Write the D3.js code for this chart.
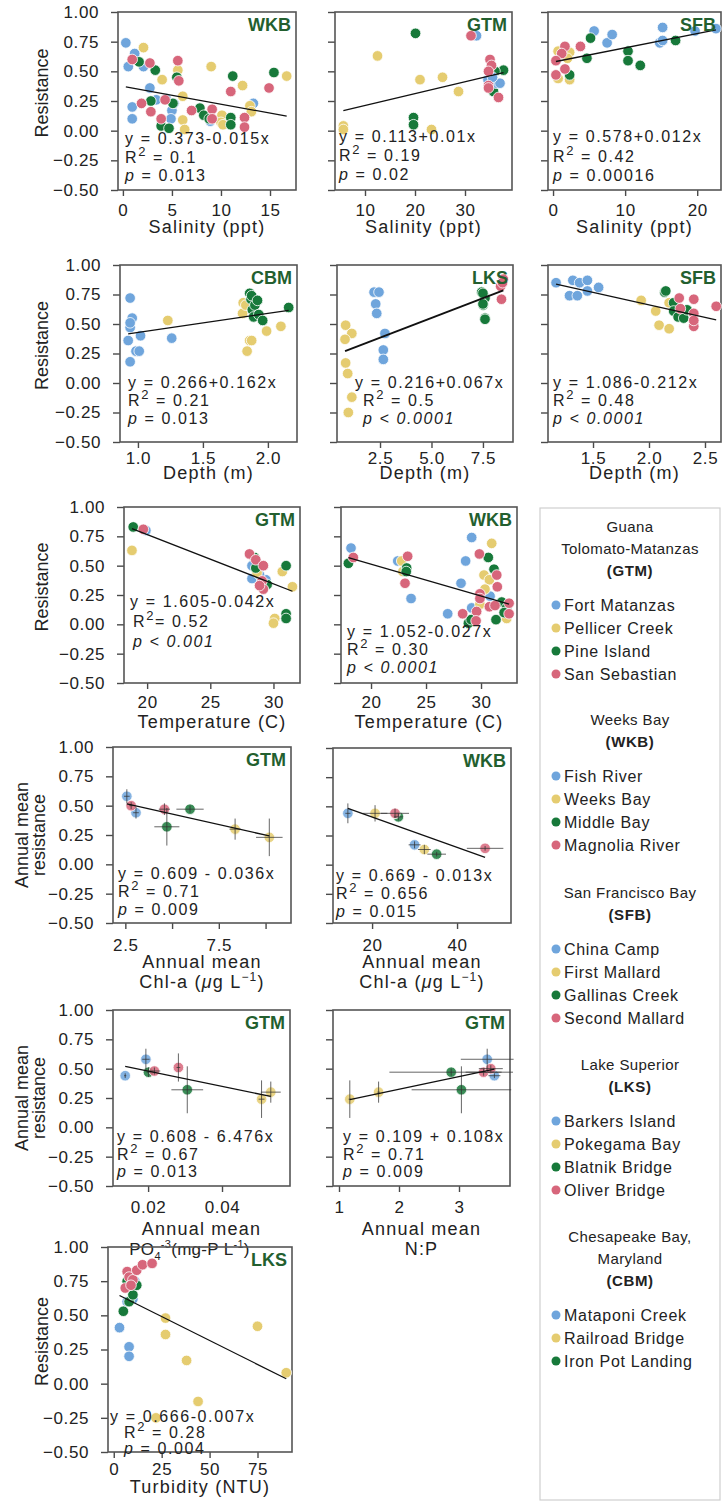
<!DOCTYPE html>
<html>
<head>
<meta charset="utf-8">
<script src="https://cdn.jsdelivr.net/npm/d3@7"></script>
<style>
  body { margin: 0; background: #fff; }
  svg { display: block; font-family: "Liberation Sans", Arial, sans-serif; }
</style>
</head>
<body>
<svg id="chart" width="722" height="1502"></svg>
<script>
// every point is [x, y, site]; site 0 blue, 1 yellow, 2 green, 3 red
const wkbSalinity = [
  [0.3,0.74,0],[0.55,0.54,0],[1.2,0.65,0],[0.95,0.20,0],[0.95,0.10,0],[2.1,0.54,0],[2.75,0.36,0],[3.4,0.26,0],[4.4,0.27,0],[5.0,0.17,0],[4.9,0.10,0],[5.2,0.23,0],[8.9,0.08,0],[13.3,0.23,0],
  [2.1,0.70,1],[4.0,0.43,1],[5.6,0.51,1],[6.1,0.29,1],[6.1,0.09,1],[6.3,0.01,1],[9.0,0.54,1],[10.1,0.13,1],[10.0,0.07,1],[10.2,0.05,1],[12.2,0.38,1],[12.95,0.21,1],[13.1,0.16,1],[16.7,0.46,1],
  [1.65,0.58,2],[3.3,0.51,2],[2.85,0.25,2],[3.9,0.04,2],[4.7,0.02,2],[5.1,0.23,2],[5.5,0.45,2],[7.85,0.19,2],[8.25,0.13,2],[8.8,0.10,2],[11.2,0.46,2],[11.0,0.11,2],[11.0,0.05,2],[15.4,0.49,2],
  [0.95,0.60,3],[1.9,0.23,3],[2.75,0.57,3],[2.85,0.16,3],[3.9,0.10,3],[4.3,0.26,3],[5.6,0.59,3],[5.7,0.42,3],[7.0,0.17,3],[9.1,0.18,3],[9.1,0.10,3],[11.0,0.33,3],[12.4,0.11,3],[12.4,0.03,3],[14.9,0.36,3]
];
const gtmSalinity = [
  [5.67,0.04,1],[5.67,0.01,1],[12.5,0.63,1],[21,0.43,1],[23.3,0.01,1],[25.5,0.45,1],[28.7,0.33,1],
  [20.1,0.82,2],[19.7,0.11,2],[19.7,0.05,2],[37.7,0.51,2],[36,0.50,2],[35.7,0.33,2],
  [32.3,0.80,0],[36.3,0.40,0],[37.0,0.40,0],[34.6,0.43,0],[35.5,0.45,0],
  [31.2,0.80,3],[35,0.60,3],[35.3,0.55,3],[34.7,0.50,3],[34.7,0.38,3],[34.7,0.36,3],[36.7,0.28,3]
];
const sfbSalinity = [
  [0.7,0.67,1],[2.3,0.66,1],[2.3,0.43,1],[0.7,0.44,1],[2.0,0.61,1],
  [5.7,0.84,0],[7.5,0.74,0],[8.2,0.81,0],[15.2,0.87,0],[14.8,0.74,0],[15.2,0.76,0],[19.7,0.84,0],[22.6,0.86,0],
  [5.2,0.78,2],[4.7,0.61,2],[10.4,0.67,2],[10.4,0.59,2],[12.1,0.55,2],[17,0.76,2],[2.3,0.47,2],
  [1.65,0.71,3],[1.2,0.65,3],[0.4,0.59,3],[0.4,0.47,3],[1.65,0.52,3],[3.8,0.71,3]
];
const cbmDepth = [
  [0.94,0.72,0],[0.956,0.55,0],[0.94,0.47,0],[0.94,0.51,0],[0.925,0.36,0],[0.985,0.27,0],[1.01,0.27,0],[1.02,0.40,0],[0.94,0.18,0],[1.26,0.38,0],
  [1.23,0.53,1],[1.81,0.68,1],[1.805,0.59,1],[1.86,0.36,1],[1.84,0.27,1],[1.875,0.36,1],[1.99,0.44,1],[2.1,0.48,1],[1.83,0.66,1],
  [1.86,0.76,2],[1.87,0.71,2],[1.88,0.62,2],[1.89,0.56,2],[1.875,0.74,2],[1.9,0.66,2],[1.93,0.58,2],[1.96,0.53,2],[2.16,0.64,2],[1.92,0.70,2]
];
const lksDepth = [
  [2.21,0.77,0],[2.45,0.77,0],[2.29,0.67,0],[2.34,0.59,0],[2.74,0.42,0],[2.66,0.28,0],[2.66,0.20,0],
  [0.83,0.49,1],[1.13,0.42,1],[0.8,0.37,1],[0.83,0.17,1],[0.93,0.08,1],[1.13,-0.12,1],[0.96,-0.25,1],
  [7.44,0.77,2],[7.6,0.72,2],[7.51,0.66,2],[7.6,0.55,2],[7.6,0.54,2],[7.5,0.76,2],[7.5,0.67,2],
  [8.49,0.88,3],[8.36,0.82,3],[8.4,0.71,3],[8.45,0.85,3]
];
const sfbDepth = [
  [1.17,0.85,0],[1.32,0.87,0],[1.38,0.85,0],[1.45,0.87,0],[1.29,0.74,0],[1.36,0.74,0],[1.45,0.78,0],[1.55,0.81,0],
  [1.93,0.70,1],[2.06,0.61,1],[2.09,0.49,1],[2.18,0.46,1],[2.18,0.68,1],
  [2.14,0.77,2],[2.15,0.78,2],[2.22,0.68,2],[2.22,0.61,2],[2.26,0.56,2],[2.31,0.55,2],[2.34,0.62,2],
  [2.27,0.72,3],[2.28,0.63,3],[2.40,0.71,3],[2.40,0.59,3],[2.40,0.48,3],[2.60,0.65,3],[2.40,0.53,3]
];
const gtmTemp = [
  [19.9,0.80,0],[28.3,0.50,0],[28.3,0.39,0],[29.4,0.38,0],[28.9,0.42,0],
  [18.8,0.63,1],[30.7,0.45,1],[31.5,0.32,1],[30.1,0.05,1],[30.0,0.01,1],[28.7,0.44,1],
  [18.9,0.83,2],[28.5,0.57,2],[28.6,0.48,2],[29.5,0.34,2],[31.0,0.50,2],[31.0,0.09,2],[31.0,0.05,2],
  [19.7,0.81,3],[28.1,0.60,3],[28.6,0.55,3],[29.2,0.50,3],[29.1,0.37,3],[29.2,0.30,3],[28.9,0.33,3]
];
const wkbTemp = [
  [18.18,0.65,0],[22.43,0.54,0],[23.64,0.22,0],[29.15,0.74,0],[28.6,0.54,0],[28.18,0.35,0],[26.97,0.09,0],[29.15,0.14,0],[30.82,0.24,0],
  [22.79,0.54,1],[22.9,0.45,1],[30.97,0.69,1],[30.27,0.42,1],[30.76,0.38,1],[30.36,0.30,1],[29.9,0.17,1],[32.33,0.05,1],
  [17.94,0.52,2],[23.24,0.48,2],[23.2,0.45,2],[30.66,0.57,2],[31.18,0.47,2],[28.85,0.01,2],[29.1,0.04,2],[31.88,0.19,2],[31.36,0.04,2],[32.33,0.14,2],[32.1,0.10,2],
  [18.39,0.57,3],[23.33,0.58,3],[23.09,0.35,3],[29.85,0.60,3],[31.43,0.42,3],[31.48,0.32,3],[29.9,0.26,3],[29.9,0.22,3],[28.33,0.09,3],[29.6,0.11,3],[29.55,0.03,3],[30.76,0.15,3],[31.27,0.16,3],[32.55,0.18,3],[32.55,0.09,3]
];
const lksTurbidity = [
  [3,0.41,0],[8,0.27,0],[8,0.20,0],[7,0.60,0],[10,0.62,0],[11,0.75,0],
  [27,0.48,1],[27,0.36,1],[38,0.17,1],[44,-0.13,1],[22,-0.25,1],[75,0.42,1],[90,0.08,1],
  [5,0.53,2],[8,0.60,2],[10,0.65,2],[12,0.72,2],[7,0.75,2],
  [7,0.82,3],[8,0.78,3],[10,0.76,3],[12,0.83,3],[15,0.87,3],[20,0.88,3],[6,0.70,3],[9,0.72,3]
];
// annual means: [x, y, xErr, yErr, site]
const gtmChl = [
  [2.58,0.58,0.15,0.06,0],[3.07,0.44,0.15,0.05,0],
  [8.37,0.30,0.3,0.09,1],[10.2,0.23,0.71,0.16,1],
  [4.72,0.32,0.67,0.16,2],[5.96,0.47,0.73,0.03,2],
  [2.81,0.50,0.1,0.03,3],[4.59,0.47,0.3,0.05,3]
];
const wkbChl = [
  [14.3,0.44,0.6,0.085,0],[30,0.17,1.4,0.03,0],
  [20.7,0.44,2.9,0.07,1],[32.3,0.13,1.5,0.04,1],
  [26.2,0.41,1.0,0.03,2],[35.2,0.09,2.2,0.02,2],
  [25.4,0.44,3.3,0.04,3],[46.6,0.14,4.3,0.02,3]
];
const gtmPO4 = [
  [0.0138,0.44,0.0003,0.02,0],[0.0194,0.58,0.001,0.09,0],
  [0.0507,0.24,0.0008,0.16,1],[0.0532,0.30,0.0027,0.09,1],
  [0.0201,0.47,0.0005,0.04,2],[0.0306,0.32,0.0043,0.2,2],
  [0.0217,0.48,0.0016,0.03,3],[0.0282,0.51,0.0005,0.12,3]
];
const gtmNP = [
  [3.47,0.58,0.44,0.09,0],[3.59,0.44,0.1,0.02,0],
  [1.18,0.24,0.02,0.16,1],[1.66,0.30,0.02,0.09,1],
  [2.87,0.47,1.03,0.03,2],[3.04,0.32,0.83,0.2,2],
  [3.41,0.47,0.3,0.03,3],[3.53,0.50,0.2,0.03,3]
];

const resistanceTicks = [-0.5, -0.25, 0, 0.25, 0.5, 0.75, 1.0];

const legendGroups = [
  { head: ['Guana', 'Tolomato-Matanzas'], code: '(GTM)', sites: ['Fort Matanzas', 'Pellicer Creek', 'Pine Island', 'San Sebastian'] },
  { head: ['Weeks Bay'], code: '(WKB)', sites: ['Fish River', 'Weeks Bay', 'Middle Bay', 'Magnolia River'] },
  { head: ['San Francisco Bay'], code: '(SFB)', sites: ['China Camp', 'First Mallard', 'Gallinas Creek', 'Second Mallard'] },
  { head: ['Lake Superior'], code: '(LKS)', sites: ['Barkers Island', 'Pokegama Bay', 'Blatnik Bridge', 'Oliver Bridge'] },
  { head: ['Chesapeake Bay,', 'Maryland'], code: '(CBM)', sites: ['Mataponi Creek', 'Railroad Bridge', 'Iron Pot Landing'] }
];

const siteColors = ['#6fa5dc', '#e5cc70', '#17793a', '#d7667b'];
const titleColor = '#235f2f';

// box = [left, right, top, bottom] of the frame in px
const panels = [
  { data: wkbSalinity, box: [118, 296, 12, 190], xDomain: [-0.5, 17.65], xTicks: [0, 5, 10, 15], fmt: 'd', yLabels: true,
    title: 'WKB', coef: [0.373, -0.015], eq: 'y = 0.373-0.015x', r2: ' = 0.1', p: ' = 0.013', ann: [125, 144, 0, 18.5],
    xTitle: ['Salinity (ppt)'], tickPad: 8, xTitleY: 233, yTitle: ['Resistance'] },
  { data: gtmSalinity, box: [335, 512, 12, 190], xDomain: [4, 39.4], xTicks: [10, 20, 30], fmt: 'd',
    title: 'GTM', coef: [0.113, 0.01], eq: 'y = 0.113+0.01x', r2: ' = 0.19', p: ' = 0.02', ann: [339, 142, 0, 19],
    xTitle: ['Salinity (ppt)'], tickPad: 8, xTitleY: 233 },
  { data: sfbSalinity, box: [548, 721, 12, 190], xDomain: [-0.7, 23.3], xTicks: [0, 10, 20], fmt: 'd',
    title: 'SFB', coef: [0.578, 0.012], eq: 'y = 0.578+0.012x', r2: ' = 0.42', p: ' = 0.00016', ann: [553, 142, 0, 19.5],
    xTitle: ['Salinity (ppt)'], tickPad: 8, xTitleY: 233 },
  { data: cbmDepth, box: [120, 297, 265, 442], xDomain: [0.862, 2.224], xTicks: [1.0, 1.5, 2.0], fmt: '.1f', yLabels: true,
    title: 'CBM', coef: [0.266, 0.162], eq: 'y = 0.266+0.162x', r2: ' = 0.21', p: ' = 0.013', ann: [128, 388, 0, 18],
    xTitle: ['Depth (m)'], tickPad: 4, xTitleY: 479, yTitle: ['Resistance'] },
  { data: lksDepth, box: [337, 513, 265, 442], xDomain: [0.41, 8.96], xTicks: [2.5, 5.0, 7.5], fmt: '.1f',
    title: 'LKS', coef: [0.216, 0.067], eq: 'y = 0.216+0.067x', r2: ' = 0.5', p: ' < 0.0001', pItalic: true, ann: [355, 388, 8, 18],
    xTitle: ['Depth (m)'], tickPad: 4, xTitleY: 479, lineWidth: 2 },
  { data: sfbDepth, box: [548, 721, 265, 442], xDomain: [1.098, 2.643], xTicks: [1.5, 2.0, 2.5], fmt: '.1f',
    title: 'SFB', coef: [1.086, -0.212], eq: 'y = 1.086-0.212x', r2: ' = 0.48', p: ' < 0.0001', pItalic: true, ann: [553, 388, 0, 18],
    xTitle: ['Depth (m)'], tickPad: 4, xTitleY: 479 },
  { data: gtmTemp, box: [124, 300, 507, 683], xDomain: [18.17, 32.1], xTicks: [20, 25, 30], fmt: 'd', yLabels: true,
    title: 'GTM', coef: [1.605, -0.042], eq: 'y = 1.605-0.042x', r2: '= 0.52', p: ' < 0.001', pItalic: true, ann: [130, 607, 3, 20],
    xTitle: ['Temperature (C)'], tickPad: 7, xTitleY: 728, yTitle: ['Resistance'] },
  { data: wkbTemp, box: [341, 517, 507, 683], xDomain: [17.27, 33.27], xTicks: [20, 25, 30], fmt: 'd',
    title: 'WKB', coef: [1.052, -0.027], eq: 'y = 1.052-0.027x', r2: ' = 0.30', p: ' < 0.0001', pItalic: true, ann: [347, 637, 0, 18],
    xTitle: ['Temperature (C)'], tickPad: 7, xTitleY: 728 },
  { data: gtmChl, box: [113, 291, 747, 923], xDomain: [1.84, 11.36], xTicks: [2.5, 5.0, 7.5, 10.0], shown: [2.5, 7.5], fmt: '.1f', yLabels: true, errors: true,
    title: 'GTM', coef: [0.609, -0.036], eq: 'y = 0.609 -  0.036x', r2: ' =  0.71', p: ' = 0.009', ann: [118, 879, 0, 18],
    xTitle: ['Annual mean', 'Chl-a'], unit: 'chl', tickPad: 10, xTitleY: 968, yTitle: ['Annual mean', 'resistance'] },
  { data: wkbChl, box: [333, 511, 748, 923], xDomain: [10.8, 52.7], xTicks: [20, 40], fmt: 'd', errors: true,
    title: 'WKB', coef: [0.669, -0.013], eq: 'y = 0.669  -  0.013x', r2: ' =  0.656', p: ' = 0.015', ann: [336, 881, 0, 18],
    xTitle: ['Annual mean', 'Chl-a'], unit: 'chl', tickPad: 10, xTitleY: 968 },
  { data: gtmPO4, box: [113, 290, 1010, 1186], xDomain: [0.0105, 0.0584], xTicks: [0.02, 0.04], fmt: '.2f', yLabels: true, errors: true,
    title: 'GTM', coef: [0.608, -6.476], eq: 'y = 0.608 -  6.476x', r2: ' =  0.67', p: ' = 0.013', ann: [117, 1142, 0, 17.5],
    xTitle: ['Annual mean', 'PO'], unit: 'po4', tickPad: 9, xTitleY: 1235, yTitle: ['Annual mean', 'resistance'] },
  { data: gtmNP, box: [333, 510, 1010, 1186], xDomain: [0.9, 3.85], xTicks: [1, 2, 3], fmt: 'd', errors: true,
    title: 'GTM', coef: [0.109, 0.108], eq: 'y = 0.109 +  0.108x', r2: ' =  0.71', p: ' = 0.009', ann: [343, 1142, 0, 17.5],
    xTitle: ['Annual mean', 'N:P'], tickPad: 9, xTitleY: 1235 },
  { data: lksTurbidity, box: [108, 292, 1247, 1452], xDomain: [-3, 93], xTicks: [0, 25, 50, 75], fmt: 'd', yLabels: true,
    title: 'LKS', coef: [0.666, -0.007], eq: 'y = 0.666-0.007x', r2: ' = 0.28', p: ' = 0.004', ann: [110, 1422, 14, 16],
    xTitle: ['Turbidity (NTU)'], tickPad: 5, xTitleY: 1493, yTitle: ['Resistance'] }
];

const svg = d3.select('#chart');
svg.append('rect').attr('width', 722).attr('height', 1502).attr('fill', '#fff');

panels.forEach(p => drawPanel(p));
drawLegend();

function drawPanel(p) {
  const [left, right, top, bottom] = p.box;
  const x = d3.scaleLinear().domain(p.xDomain).range([left, right]);
  const y = d3.scaleLinear().domain([-0.5, 1.0]).range([bottom, top]);
  const g = svg.append('g');

  // y axis ticks (labels only on the first column)
  const yAxis = d3.axisLeft(y).tickValues(resistanceTicks).tickSize(7).tickSizeOuter(0).tickPadding(12)
    .tickFormat(p.yLabels ? d3.format('.2f') : '');
  const ya = g.append('g').attr('transform', `translate(${left},0)`).call(yAxis);

  const fx = d3.format(p.fmt);
  const xAxis = d3.axisBottom(x).tickValues(p.xTicks).tickSize(6).tickSizeOuter(0).tickPadding(p.tickPad)
    .tickFormat(d => (!p.shown || p.shown.includes(d)) ? fx(d) : '');
  const xa = g.append('g').attr('transform', `translate(0,${bottom})`).call(xAxis);

  [ya, xa].forEach(a => {
    a.select('.domain').remove();
    a.selectAll('.tick line').attr('stroke', '#4a4a4a').attr('stroke-width', 1.4);
    a.selectAll('.tick text').attr('font-size', 17).attr('letter-spacing', 0.6)
      .attr('fill', '#222').attr('font-family', '"Liberation Sans", Arial, sans-serif');
  });

  // frame
  g.append('rect').attr('x', left).attr('y', top).attr('width', right - left).attr('height', bottom - top)
    .attr('fill', 'none').attr('stroke', '#555').attr('stroke-width', 1.6);

  // points
  const cx = d => x(d[0]);
  const cy = d => y(d[1]);
  const site = d => d[p.errors ? 4 : 2];
  g.append('g').selectAll('circle').data(p.data).join('circle')
    .attr('cx', cx).attr('cy', cy).attr('r', 5.3)
    .attr('fill', d => siteColors[site(d)])
    .attr('fill-opacity', p.errors ? 0.85 : 1)
    .attr('stroke', '#fff').attr('stroke-width', 0.8);

  if (p.errors) {
    const eb = g.append('g').attr('stroke', '#333').attr('stroke-opacity', 0.75).attr('stroke-width', 1);
    eb.selectAll('.h').data(p.data).join('line')
      .attr('x1', d => x(d[0] - d[2])).attr('x2', d => x(d[0] + d[2]))
      .attr('y1', cy).attr('y2', cy);
    eb.selectAll('.v').data(p.data).join('line')
      .attr('x1', cx).attr('x2', cx)
      .attr('y1', d => y(d[1] - d[3])).attr('y2', d => y(d[1] + d[3]));
  }

  // regression line over the observed x range
  const xs = d3.extent(p.data, d => d[0]);
  g.append('line')
    .attr('x1', x(xs[0])).attr('y1', y(p.coef[0] + p.coef[1] * xs[0]))
    .attr('x2', x(xs[1])).attr('y2', y(p.coef[0] + p.coef[1] * xs[1]))
    .attr('stroke', '#111').attr('stroke-width', p.lineWidth || 1.3);

  // site title
  g.append('text').attr('x', right - 5).attr('y', top + 19).attr('text-anchor', 'end')
    .attr('font-size', 18).attr('font-weight', 'bold').attr('fill', titleColor).text(p.title);

  // regression stats
  const [ax, ay, indent, lh] = p.ann;
  const ann = g.append('g').attr('font-size', 16).attr('letter-spacing', 1.6).attr('fill', '#222')
    .style('white-space', 'pre');
  ann.append('text').attr('x', ax).attr('y', ay).text(p.eq);
  const r = ann.append('text').attr('x', ax + indent).attr('y', ay + lh);
  r.append('tspan').text('R');
  r.append('tspan').attr('dy', -7).attr('font-size', 13).text('2');
  r.append('tspan').attr('dy', 7).text(p.r2);
  const pt = ann.append('text').attr('x', ax + indent).attr('y', ay + 2 * lh);
  pt.append('tspan').attr('font-style', 'italic').text('p');
  pt.append('tspan').attr('font-style', p.pItalic ? 'italic' : 'normal').text(p.p);

  // axis titles
  const cxm = (left + right) / 2;
  const tg = g.append('g').attr('font-size', 18).attr('fill', '#222').attr('text-anchor', 'middle');
  p.xTitle.forEach((t, i) => {
    const po4 = p.unit === 'po4' && i === 1;
    const tx = tg.append('text').attr('x', po4 ? cxm - 12 : cxm).attr('y', p.xTitleY + i * 20)
      .attr('letter-spacing', po4 ? 0.3 : 1.2).attr('font-size', po4 ? 17 : 18)
      .style('white-space', 'pre');
    tx.append('tspan').text(t);
    if (i === 1 && p.unit === 'chl') {
      tx.append('tspan').text(' (');
      tx.append('tspan').attr('font-style', 'italic').text('μ');
      tx.append('tspan').text('g L');
      tx.append('tspan').attr('dy', -7).attr('font-size', 12).text('−1');
      tx.append('tspan').attr('dy', 7).text(')');
    }
    if (po4) {
      tx.append('tspan').attr('dy', 5).attr('font-size', 11).text('4');
      tx.append('tspan').attr('dy', -12).attr('font-size', 11).text('-3');
      tx.append('tspan').attr('dy', 7).text('(mg-P L');
      tx.append('tspan').attr('dy', -7).attr('font-size', 11).text('-1');
      tx.append('tspan').attr('dy', 7).text(')');
    }
  });

  if (p.yTitle) {
    const cym = (top + bottom) / 2 - (p.yTitle.length === 1 ? 8 : 0);
    const base = p.yTitle.length === 1 ? [48] : [28, 45];
    p.yTitle.forEach((t, i) => {
      tg.append('text').attr('transform', `translate(${base[i]},${cym}) rotate(-90)`).text(t);
    });
  }
}

function drawLegend() {
  const lg = svg.append('g');
  lg.append('rect').attr('x', 540).attr('y', 508).attr('width', 180).attr('height', 992)
    .attr('fill', 'none').attr('stroke', '#cfcfcf').attr('stroke-width', 1.2);
  const starts = [527, 720, 893, 1065, 1237];
  const midX = 630;
  legendGroups.forEach((grp, gi) => {
    let yy = starts[gi];
    grp.head.forEach(h => {
      lg.append('text').attr('x', midX).attr('y', yy + 5).attr('text-anchor', 'middle')
        .attr('font-size', 15).attr('fill', '#222').attr('letter-spacing', 0.4).text(h);
      yy += 22;
    });
    lg.append('text').attr('x', midX).attr('y', yy + 5).attr('text-anchor', 'middle')
      .attr('font-size', 15).attr('font-weight', 'bold').attr('fill', '#222').attr('letter-spacing', 0.6).text(grp.code);
    yy += 34;
    grp.sites.forEach((s, si) => {
      const iy = yy + si * 23;
      lg.append('circle').attr('cx', 556).attr('cy', iy).attr('r', 4.5).attr('fill', siteColors[si]);
      lg.append('text').attr('x', 564).attr('y', iy + 6).attr('font-size', 16).attr('letter-spacing', 0.7)
        .attr('fill', '#222').text(s);
    });
  });
}
</script>
</body>
</html>
